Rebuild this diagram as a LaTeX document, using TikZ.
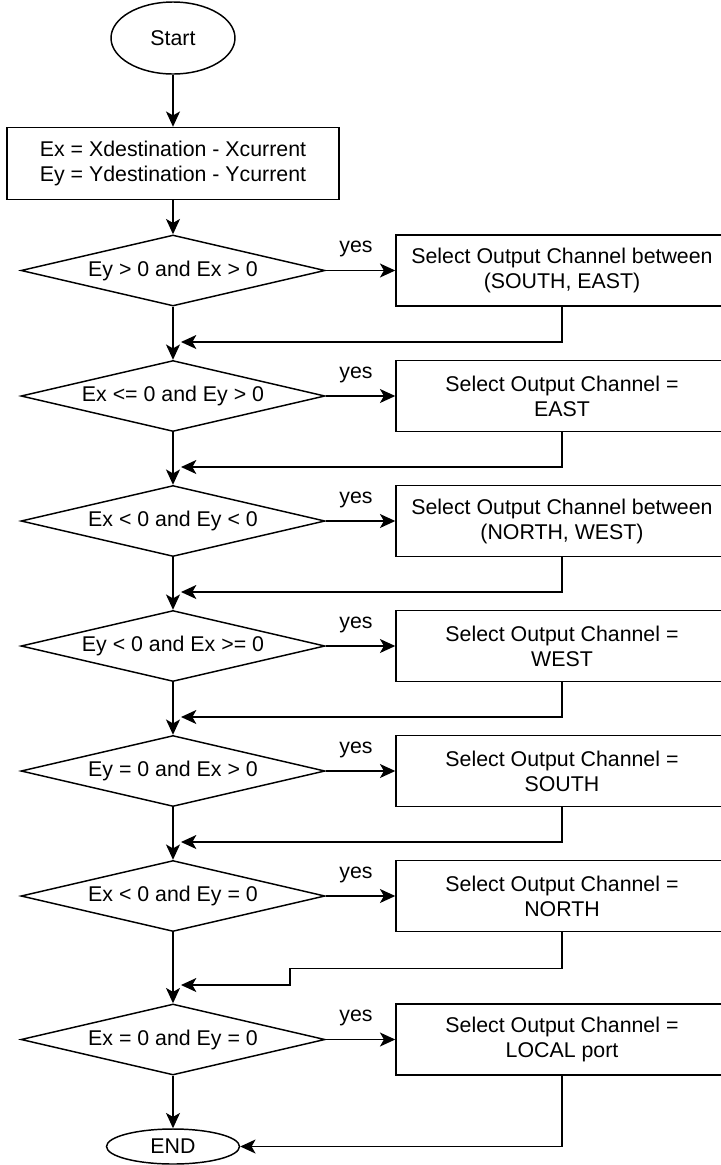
\documentclass[tikz,border=0pt]{standalone}
\usepackage{fontspec}
\setmainfont{Liberation Sans}
\usetikzlibrary{shapes.geometric,arrows.meta}

\begin{document}
\begin{tikzpicture}[x=0.75pt,y=0.75pt,yscale=-1,xscale=1,
  font=\fontsize{16}{18.75}\selectfont,
  terminal/.style={draw, ellipse, line width=1.1pt, inner sep=0pt},
  calcbox/.style={draw, rectangle, line width=1.1pt, inner sep=0pt, align=center, minimum width=249pt, minimum height=54pt},
  decision/.style={draw, diamond, line width=1.1pt, inner sep=0pt, aspect=4.3, minimum width=228pt, minimum height=53.25pt},
  outbox/.style={draw, rectangle, line width=1.1pt, inner sep=0pt, align=center, minimum width=249pt, minimum height=53.25pt},
  flowline/.style={line width=1.1pt, -{Stealth[length=11.5pt,width=10.5pt,inset=3pt]}}
]
%set diagram frame: 721 x 1165, boxes on the right run past the edge
\useasboundingbox (0,0) rectangle (721,1165);
\clip (0,0) rectangle (721,1165);

%Shape: Ellipse [id:start] 
\node (start) [terminal, minimum width=93pt, minimum height=54pt] at (173,38) {Start};
%Shape: Rectangle [id:calc] 
\node (calc) [calcbox] at (173,163.5) {Ex = Xdestination - Xcurrent\\Ey = Ydestination - Ycurrent};

%Shape: Diamond [id:d1..d7] 
\node (d1) [decision] at (173,270.5) {Ey {\char`\>} 0 and Ex {\char`\>} 0};
\node (d2) [decision] at (173,396) {Ex {\char`\<}= 0 and Ey {\char`\>} 0};
\node (d3) [decision] at (173,521) {Ex {\char`\<} 0 and Ey {\char`\<} 0};
\node (d4) [decision] at (173,646) {Ey {\char`\<} 0 and Ex {\char`\>}= 0};
\node (d5) [decision] at (173,771) {Ey = 0 and Ex {\char`\>} 0};
\node (d6) [decision] at (173,896) {Ex {\char`\<} 0 and Ey = 0};
\node (d7) [decision] at (173,1039.5) {Ex = 0 and Ey = 0};

%Shape: Rectangle [id:b1..b7] 
\node (b1) [outbox] at (562,270.5) {Select Output Channel between\\(SOUTH, EAST)};
\node (b2) [outbox] at (562,396) {Select Output Channel =\\EAST};
\node (b3) [outbox] at (562,521) {Select Output Channel between\\(NORTH, WEST)};
\node (b4) [outbox] at (562,646) {Select Output Channel =\\WEST};
\node (b5) [outbox] at (562,771) {Select Output Channel =\\SOUTH};
\node (b6) [outbox] at (562,896) {Select Output Channel =\\NORTH};
\node (b7) [outbox] at (562,1039.5) {Select Output Channel =\\LOCAL port};

%Shape: Ellipse [id:stop] 
\node (stop) [terminal, minimum width=99.75pt, minimum height=26.25pt] at (173,1146.5) {END};

% Text Node
\node (y1) at (356,249) {yes};
\node (y2) at (356,375) {yes};
\node (y3) at (356,500) {yes};
\node (y4) at (356,625) {yes};
\node (y5) at (356,750) {yes};
\node (y6) at (356,875) {yes};
\node (y7) at (356,1018) {yes};

%Merge points on the main line
\coordinate (m1) at (181,342);
\coordinate (m2) at (181,467);
\coordinate (m3) at (181,592);
\coordinate (m4) at (181,717);
\coordinate (m5) at (181,842);
\coordinate (j6) at (290,985);
\coordinate (m6) at (181,985);

%Straight Lines: main line
\draw [flowline] (start) -- (calc);
\draw [flowline] (calc) -- (d1);
\draw [flowline] (d1) -- (d2);
\draw [flowline] (d2) -- (d3);
\draw [flowline] (d3) -- (d4);
\draw [flowline] (d4) -- (d5);
\draw [flowline] (d5) -- (d6);
\draw [flowline] (d6) -- (d7);
\draw [flowline] (d7) -- (stop);

%Straight Lines: yes branches
\draw [flowline] (d1) -- (b1);
\draw [flowline] (d2) -- (b2);
\draw [flowline] (d3) -- (b3);
\draw [flowline] (d4) -- (b4);
\draw [flowline] (d5) -- (b5);
\draw [flowline] (d6) -- (b6);
\draw [flowline] (d7) -- (b7);

%Straight Lines: back to the main line
\draw [flowline] (b1.south) |- (m1);
\draw [flowline] (b2.south) |- (m2);
\draw [flowline] (b3.south) |- (m3);
\draw [flowline] (b4.south) |- (m4);
\draw [flowline] (b5.south) |- (m5);
\draw [flowline] (b6.south) -- ++(0,36) -| (j6) -- (m6);
\draw [flowline] (b7.south) |- (stop.east);

\end{tikzpicture}
\end{document}
